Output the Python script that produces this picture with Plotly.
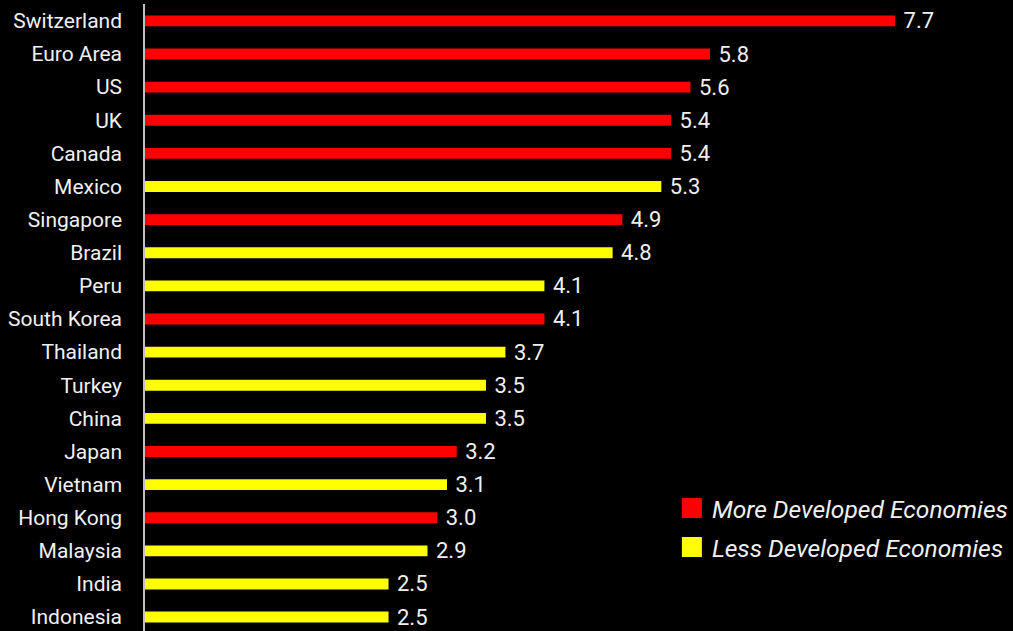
import plotly.graph_objects as go

countries = ["Switzerland", "Euro Area", "US", "UK", "Canada", "Mexico", "Singapore", "Brazil",
             "Peru", "South Korea", "Thailand", "Turkey", "China", "Japan", "Vietnam",
             "Hong Kong", "Malaysia", "India", "Indonesia"]
values = [7.7, 5.8, 5.6, 5.4, 5.4, 5.3, 4.9, 4.8, 4.1, 4.1, 3.7, 3.5, 3.5, 3.2, 3.1, 3.0, 2.9, 2.5, 2.5]
developed = [True, True, True, True, True, False, True, False, False, True, False, False, False,
             True, False, True, False, False, False]

groups = [("More Developed Economies", True, "#ff0000"),
          ("Less Developed Economies", False, "#ffff00")]

FONT = "Roboto"
TXT = "#f0f0f0"
fig = go.Figure()
for name, flag, color in groups:
    ys = [c for c, d in zip(countries, developed) if d == flag]
    xs = [v for v, d in zip(values, developed) if d == flag]
    fig.add_trace(go.Bar(
        x=xs, y=ys, orientation="h", name=name, showlegend=False,
        marker=dict(color=color, line=dict(width=0)),
        texttemplate="\u00a0%{x:.1f}", textposition="outside", constraintext="none",
        textfont=dict(color=TXT, size=22, family=FONT),
        cliponaxis=False, hoverinfo="skip",
    ))
    # legend entry with a larger square swatch
    fig.add_trace(go.Scatter(
        x=[None], y=[None], mode="markers", name=name, legendgroup=name,
        marker=dict(symbol="square", size=16, color=color, line=dict(color=color, width=4)),
        showlegend=True,
    ))

fig.update_layout(
    width=1013, height=631,
    paper_bgcolor="#000000", plot_bgcolor="#000000",
    margin=dict(l=145, r=0, t=4, b=0),
    barmode="overlay", bargap=0.67,
    font=dict(family=FONT, color=TXT, size=21),
    xaxis=dict(range=[0, 8.91], visible=False, showgrid=False, zeroline=False),
    yaxis=dict(categoryorder="array", categoryarray=countries, range=[18.42, -0.51],
               showgrid=False, zeroline=False, showline=True, linecolor="#bfbfbf", linewidth=1.5,
               ticks="", ticklabelstandoff=17, tickfont=dict(size=21, color=TXT, family=FONT)),
    legend=dict(x=0.607, y=0.232, xanchor="left", yanchor="top", bgcolor="rgba(0,0,0,0)",
                font=dict(size=24.6, color=TXT, family=FONT, style="italic"),
                tracegroupgap=4, itemsizing="trace", itemwidth=30),
    showlegend=True,
)

fig.write_html("out.html", config={"displayModeBar": False},
               post_script="document.body.style.margin='0';document.body.style.background='#000';")
